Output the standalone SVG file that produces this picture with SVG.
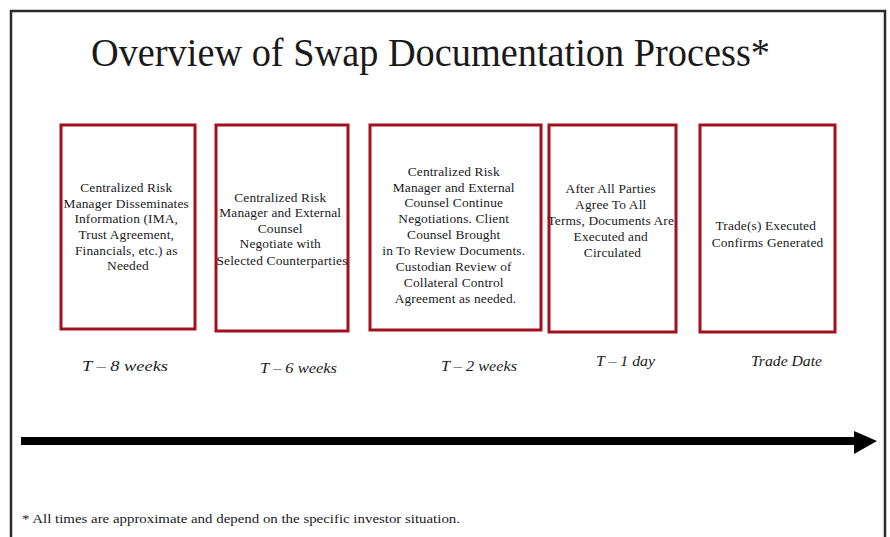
<svg xmlns="http://www.w3.org/2000/svg" width="890" height="537" viewBox="0 0 890 537">
  <style>
    .frame { fill: #ffffff; stroke: #2a2a2a; stroke-width: 2.5; }
    .step { fill: #ffffff; stroke: #a3101e; stroke-width: 3; }
    .txt { font-family: "Liberation Serif", "Times New Roman", serif; font-size: 13.4px; letter-spacing: 0.15px; fill: #1a1a1a; text-anchor: middle; }
    .time { font-family: "Liberation Serif", "Times New Roman", serif; font-size: 15.5px; font-style: italic; fill: #1a1a1a; }
    .title { font-family: "Liberation Serif", "Times New Roman", serif; font-size: 39px; fill: #1a1a1a; }
    .note { font-family: "Liberation Serif", "Times New Roman", serif; font-size: 13.5px; fill: #1a1a1a; }
  </style>

  <rect x="0" y="0" width="890" height="537" fill="#ffffff"/>
  <rect class="frame" x="11" y="11" width="874" height="540"/>

  <text class="title" x="91" y="66" textLength="679" lengthAdjust="spacingAndGlyphs">Overview of Swap Documentation Process*</text>

  <g id="step1">
    <rect class="step" x="61" y="125" width="134" height="204"/>
    <text class="txt">
      <tspan x="128" y="192">Centralized Risk</tspan>
      <tspan x="128" y="208">Manager Disseminates</tspan>
      <tspan x="128" y="223">Information (IMA,</tspan>
      <tspan x="128" y="239">Trust Agreement,</tspan>
      <tspan x="128" y="255">Financials, etc.) as</tspan>
      <tspan x="128" y="270">Needed</tspan>
    </text>
  </g>

  <g id="step2">
    <rect class="step" x="216" y="125" width="132" height="206"/>
    <text class="txt">
      <tspan x="282" y="202">Centralized Risk</tspan>
      <tspan x="282" y="217">Manager and External</tspan>
      <tspan x="282" y="233">Counsel</tspan>
      <tspan x="282" y="248">Negotiate with</tspan>
      <tspan x="282" y="265">Selected Counterparties</tspan>
    </text>
  </g>

  <g id="step3">
    <rect class="step" x="370" y="125" width="171" height="205"/>
    <text class="txt">
      <tspan x="455.5" y="176">Centralized Risk</tspan>
      <tspan x="455.5" y="192">Manager and External</tspan>
      <tspan x="455.5" y="207">Counsel Continue</tspan>
      <tspan x="455.5" y="223">Negotiations.  Client</tspan>
      <tspan x="455.5" y="239">Counsel Brought</tspan>
      <tspan x="455.5" y="255">in To Review Documents.</tspan>
      <tspan x="455.5" y="271">Custodian Review of</tspan>
      <tspan x="455.5" y="287">Collateral Control</tspan>
      <tspan x="455.5" y="303">Agreement as needed.</tspan>
    </text>
  </g>

  <g id="step4">
    <rect class="step" x="549" y="125" width="127" height="207"/>
    <text class="txt">
      <tspan x="612.5" y="193">After All Parties</tspan>
      <tspan x="612.5" y="209">Agree To All</tspan>
      <tspan x="612.5" y="225">Terms, Documents Are</tspan>
      <tspan x="612.5" y="241">Executed and</tspan>
      <tspan x="612.5" y="257">Circulated</tspan>
    </text>
  </g>

  <g id="step5">
    <rect class="step" x="700" y="125" width="135" height="207"/>
    <text class="txt">
      <tspan x="767.5" y="230">Trade(s) Executed</tspan>
      <tspan x="767.5" y="247">Confirms Generated</tspan>
    </text>
  </g>

  <g id="timeline-labels">
    <text class="time" x="82" y="371" textLength="86" lengthAdjust="spacingAndGlyphs">T – 8 weeks</text>
    <text class="time" x="260" y="373" textLength="77" lengthAdjust="spacingAndGlyphs">T – 6 weeks</text>
    <text class="time" x="441" y="371" textLength="76" lengthAdjust="spacingAndGlyphs">T – 2 weeks</text>
    <text class="time" x="596" y="366" textLength="59" lengthAdjust="spacingAndGlyphs">T – 1 day</text>
    <text class="time" x="751" y="366" textLength="71" lengthAdjust="spacingAndGlyphs">Trade Date</text>
  </g>

  <g id="connectors">
    <rect x="21" y="437" width="835" height="8" fill="#000000"/>
    <polygon points="854,431 877,441 854,454" fill="#000000"/>
  </g>

  <text class="note" x="22" y="523" textLength="438" lengthAdjust="spacingAndGlyphs">* All times are approximate and depend on the specific investor situation.</text>
</svg>
